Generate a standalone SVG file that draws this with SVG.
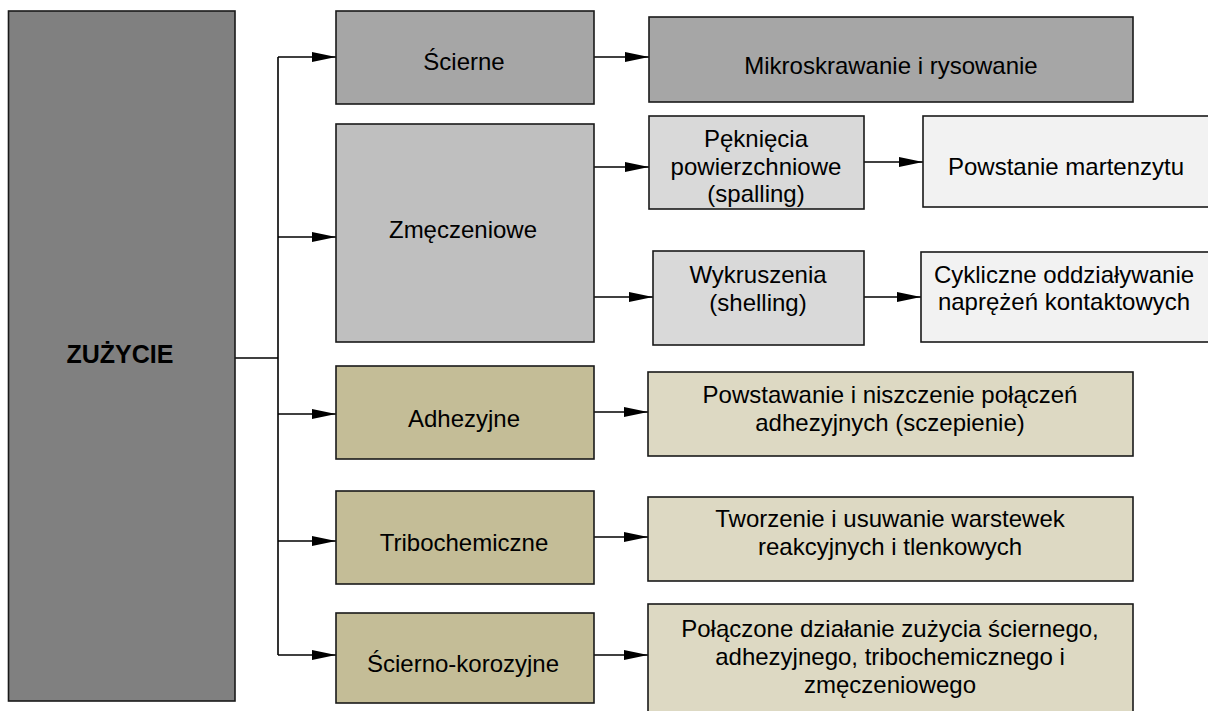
<svg xmlns="http://www.w3.org/2000/svg" width="1208" height="711" viewBox="0 0 1208 711">
  <style>
    .box { stroke: #1a1a1a; stroke-width: 1.6; }
    .t { font-family: "Liberation Sans", Arial, sans-serif; font-size: 24px; fill: #000; text-anchor: middle; }
    .root { font-size: 25px; font-weight: bold; }
    .conn { stroke: #000; stroke-width: 1.6; fill: none; }
  </style>
  <defs>
    <marker id="arrow" markerUnits="userSpaceOnUse" markerWidth="26" markerHeight="12" refX="24" refY="5" orient="auto">
      <path d="M0,0 L24,5 L0,10 Z" fill="#000"/>
    </marker>
  </defs>
  <rect width="1208" height="711" fill="#fff"/>

  <!-- connectors -->
  <g id="connectors" class="conn">
    <path d="M235,358 H278"/>
    <path d="M278,57 V655"/>
    <path d="M278,57 H336" marker-end="url(#arrow)"/>
    <path d="M278,237 H336" marker-end="url(#arrow)"/>
    <path d="M278,414 H336" marker-end="url(#arrow)"/>
    <path d="M278,541 H336" marker-end="url(#arrow)"/>
    <path d="M278,655 H336" marker-end="url(#arrow)"/>
    <path d="M594,57 H649" marker-end="url(#arrow)"/>
    <path d="M594,167 H649" marker-end="url(#arrow)"/>
    <path d="M594,297 H653" marker-end="url(#arrow)"/>
    <path d="M864,162 H923" marker-end="url(#arrow)"/>
    <path d="M864,297 H921" marker-end="url(#arrow)"/>
    <path d="M594,412 H648" marker-end="url(#arrow)"/>
    <path d="M594,537 H648" marker-end="url(#arrow)"/>
    <path d="M594,655 H648" marker-end="url(#arrow)"/>
  </g>

  <!-- root -->
  <g id="zuzycie">
    <rect class="box" x="8.5" y="11" width="226.5" height="690" fill="#808080"/>
    <text class="t root" x="120" y="363">ZUŻYCIE</text>
  </g>

  <!-- wear types -->
  <g id="scierne">
    <rect class="box" x="336" y="11" width="258" height="93" fill="#a6a6a6"/>
    <text class="t" x="464" y="70">Ścierne</text>
  </g>
  <g id="zmeczeniowe">
    <rect class="box" x="336" y="124" width="258" height="218" fill="#bfbfbf"/>
    <text class="t" x="463" y="238">Zmęczeniowe</text>
  </g>
  <g id="adhezyjne">
    <rect class="box" x="336" y="366" width="258" height="93" fill="#c4bd97"/>
    <text class="t" x="464" y="427">Adhezyjne</text>
  </g>
  <g id="tribochemiczne">
    <rect class="box" x="336" y="491" width="258" height="93" fill="#c4bd97"/>
    <text class="t" x="464" y="551">Tribochemiczne</text>
  </g>
  <g id="scierno-korozyjne">
    <rect class="box" x="336" y="613" width="258" height="90" fill="#c4bd97"/>
    <text class="t" x="463" y="672">Ścierno-korozyjne</text>
  </g>

  <!-- mechanisms -->
  <g id="mikroskrawanie">
    <rect class="box" x="649" y="17" width="484" height="85" fill="#a6a6a6"/>
    <text class="t" x="891" y="74">Mikroskrawanie i rysowanie</text>
  </g>
  <g id="pekniecia">
    <rect class="box" x="649" y="116" width="215" height="93" fill="#d9d9d9"/>
    <text class="t" x="756" y="147">Pęknięcia</text>
    <text class="t" x="756" y="175">powierzchniowe</text>
    <text class="t" x="756" y="202">(spalling)</text>
  </g>
  <g id="martenzyt">
    <rect class="box" x="923" y="116" width="292" height="91" fill="#f2f2f2"/>
    <text class="t" x="1066" y="175">Powstanie martenzytu</text>
  </g>
  <g id="wykruszenia">
    <rect class="box" x="653" y="251" width="211" height="94" fill="#d9d9d9"/>
    <text class="t" x="758" y="283">Wykruszenia</text>
    <text class="t" x="758" y="311">(shelling)</text>
  </g>
  <g id="cykliczne">
    <rect class="box" x="921" y="252" width="294" height="90" fill="#f2f2f2"/>
    <text class="t" x="1064" y="283">Cykliczne oddziaływanie</text>
    <text class="t" x="1064" y="310">naprężeń kontaktowych</text>
  </g>
  <g id="adhezja-opis">
    <rect class="box" x="648" y="372" width="485" height="84" fill="#ddd9c3"/>
    <text class="t" x="890" y="403">Powstawanie i niszczenie połączeń</text>
    <text class="t" x="890" y="431">adhezyjnych (sczepienie)</text>
  </g>
  <g id="tribo-opis">
    <rect class="box" x="648" y="497" width="485" height="84" fill="#ddd9c3"/>
    <text class="t" x="890" y="527">Tworzenie i usuwanie warstewek</text>
    <text class="t" x="890" y="555">reakcyjnych i tlenkowych</text>
  </g>
  <g id="korozja-opis">
    <rect class="box" x="648" y="604" width="485" height="115" fill="#ddd9c3"/>
    <text class="t" x="890" y="637">Połączone działanie zużycia ściernego,</text>
    <text class="t" x="890" y="665">adhezyjnego, tribochemicznego i</text>
    <text class="t" x="890" y="693">zmęczeniowego</text>
  </g>
</svg>
